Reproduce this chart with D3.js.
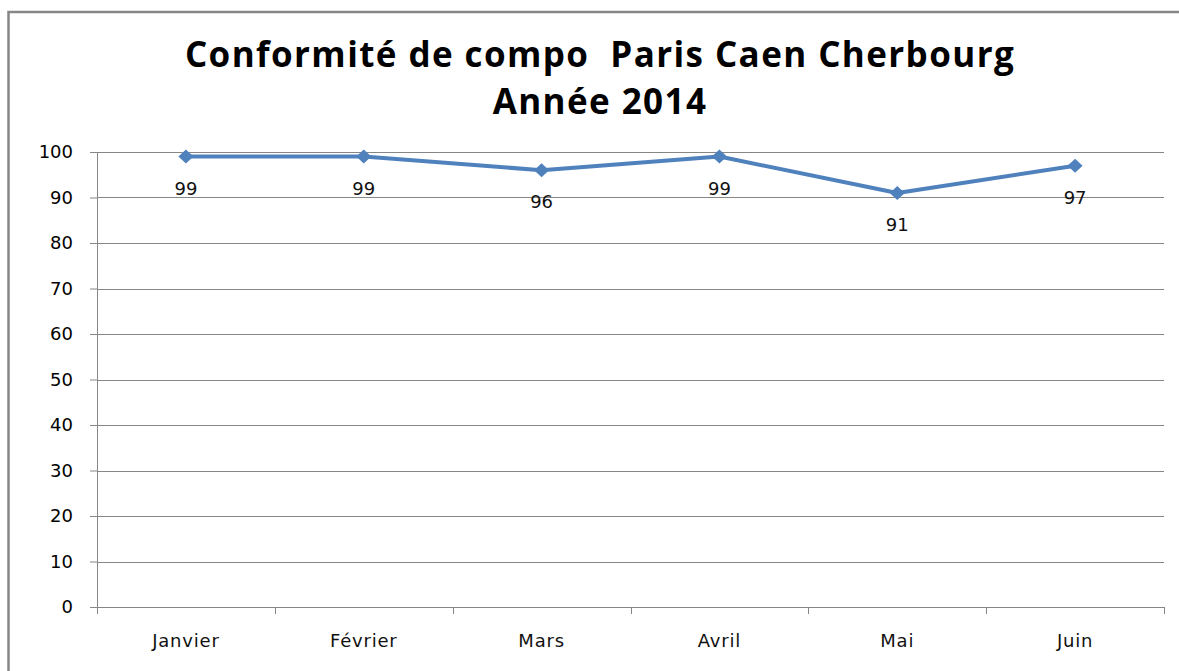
<!DOCTYPE html>
<html>
<head>
<meta charset="utf-8">
<script src="https://cdn.jsdelivr.net/npm/d3@7"></script>
<style>
  body { margin: 0; background: #fff; }
  svg { display: block; }
</style>
</head>
<body>
<div id="chart"></div>
<script>
// data
const months = ["Janvier", "Février", "Mars", "Avril", "Mai", "Juin"];
const conformite = [99, 99, 96, 99, 91, 97];
const yTicks = [0, 10, 20, 30, 40, 50, 60, 70, 80, 90, 100];
const titleLines = ["Conformité de compo  Paris Caen Cherbourg", "Année 2014"];

const width = 1179, height = 671;
const margin = { top: 152, right: 15, bottom: 64, left: 97 };
const innerW = width - margin.left - margin.right;
const innerH = height - margin.top - margin.bottom;
const labelFont = "'DejaVu Sans', sans-serif";

const svg = d3.select("#chart").append("svg")
  .attr("width", width)
  .attr("height", height);

// chart frame (partly cropped)
svg.append("rect")
  .attr("x", 8.5).attr("y", 12)
  .attr("width", width + 20).attr("height", height + 20)
  .attr("fill", "none")
  .attr("stroke", "#878787")
  .attr("stroke-width", 2.5);

// title
svg.selectAll(".title")
  .data(titleLines)
  .enter().append("text")
  .attr("class", "title")
  .attr("x", 600)
  .attr("y", (d, i) => 67 + i * 47)
  .attr("text-anchor", "middle")
  .style("white-space", "pre")
  .style("font-family", "'Open Sans', sans-serif")
  .style("font-weight", "bold")
  .style("font-size", "35px")
  .style("letter-spacing", "1.4px")
  .attr("fill", "#000")
  .text(d => d);

const g = svg.append("g")
  .attr("transform", `translate(${margin.left},${margin.top})`);

const x = d3.scaleBand().domain(months).range([0, innerW]);
const y = d3.scaleLinear().domain([0, 100]).range([innerH, 0]);

// horizontal gridlines
g.selectAll(".grid")
  .data(yTicks.filter(d => d > 0))
  .enter().append("line")
  .attr("x1", 0).attr("x2", innerW)
  .attr("y1", d => Math.round(y(d)) + 0.5)
  .attr("y2", d => Math.round(y(d)) + 0.5)
  .attr("stroke", "#868686")
  .attr("stroke-width", 1);

// y axis
const yAxis = g.append("g")
  .call(d3.axisLeft(y).tickValues(yTicks).tickSize(7).tickPadding(17));
yAxis.select(".domain").attr("stroke", "#868686");
yAxis.selectAll(".tick line").attr("stroke", "#868686");
yAxis.selectAll("text")
  .style("font-family", labelFont)
  .style("font-size", "18px")
  .attr("fill", "#000");

// x axis, ticks between categories
const xAxis = g.append("g")
  .attr("transform", `translate(0,${innerH})`)
  .call(d3.axisBottom(x).tickSize(0).tickPadding(27));
xAxis.select(".domain").attr("stroke", "#868686");
xAxis.selectAll("text")
  .style("font-family", labelFont)
  .style("font-size", "18px")
  .style("letter-spacing", "0.8px")
  .attr("fill", "#111");
xAxis.selectAll(".sep")
  .data(d3.range(months.length + 1))
  .enter().append("line")
  .attr("class", "sep")
  .attr("x1", i => Math.round(i * x.step()) + 0.5)
  .attr("x2", i => Math.round(i * x.step()) + 0.5)
  .attr("y1", 0).attr("y2", 7)
  .attr("stroke", "#868686");

// series
const cx = d => x(d.m) + x.bandwidth() / 2;
const pts = months.map((m, i) => ({ m: m, v: conformite[i] }));

g.append("path")
  .datum(pts)
  .attr("d", d3.line().x(cx).y(d => y(d.v)))
  .attr("fill", "none")
  .attr("stroke", "#4F81BD")
  .attr("stroke-width", 4)
  .attr("stroke-linejoin", "round");

g.selectAll(".marker")
  .data(pts)
  .enter().append("path")
  .attr("class", "marker")
  .attr("d", "M0,-7L7.5,0L0,7L-7.5,0Z")
  .attr("transform", d => `translate(${cx(d)},${y(d.v)})`)
  .attr("fill", "#4F81BD");

g.selectAll(".label")
  .data(pts)
  .enter().append("text")
  .attr("class", "label")
  .attr("x", cx)
  .attr("y", d => y(d.v) + 38)
  .attr("text-anchor", "middle")
  .style("font-family", labelFont)
  .style("font-size", "18px")
  .attr("fill", "#111")
  .text(d => d.v);
</script>
</body>
</html>
